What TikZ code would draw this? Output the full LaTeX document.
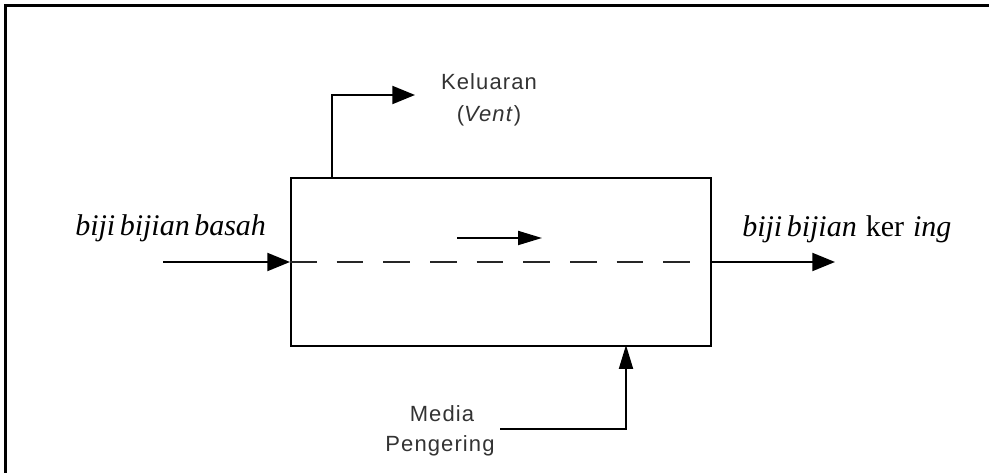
\documentclass[tikz,border=0pt]{standalone}
\usepackage{fontspec}
\setmainfont{Liberation Serif}
\newfontfamily\lblsans{Liberation Sans}[LetterSpace=5]
\usetikzlibrary{arrows.meta}
\definecolor{txtgray}{HTML}{333333}
\begin{document}
\begin{tikzpicture}[x=0.75pt,y=-0.75pt,
  flow/.style={line width=1.5pt,-{Triangle[length=17pt,width=13.5pt]}},
  smallflow/.style={line width=1.5pt,-{Triangle[length=18pt,width=10.5pt]}},
  dashline/.style={line width=1.5pt,black!85,dash pattern=on 20pt off 15pt},
  frame/.style={line width=2.25pt},
  unit/.style={draw,line width=1.5pt,minimum width=315pt,minimum height=126pt,anchor=north west,inner sep=0pt},
  sanslbl/.style={font=\lblsans\fontsize{16.5pt}{19pt}\selectfont,text=txtgray,inner sep=0pt,anchor=base},
  seriflbl/.style={font=\fontsize{22.5pt}{26pt}\selectfont\itshape,inner sep=0pt,anchor=base west}]
\useasboundingbox (0,0) rectangle (989,473);
\draw[frame] (5.5,473) |- (989,5.5);
% dryer body
\node[unit] (dryer) at (290,177) {};
% flow line
\coordinate (src) at (163,262);
\coordinate (inpt) at (290,262);
\coordinate (outpt) at (710,262);
\coordinate (dst) at (835,262);
\draw[flow] (src) -- (inpt);
\draw[dashline] (inpt) -- (outpt);
\draw[flow] (outpt) -- (dst);
% inner direction arrow
\coordinate (ia) at (457,238);
\coordinate (ib) at (542,238);
\draw[smallflow] (ia) -- (ib);
% vent
\coordinate (ventbase) at (332,177);
\coordinate (venttip) at (415,95);
\draw[flow] (ventbase) |- (venttip);
% drying medium
\coordinate (mstart) at (500,429);
\coordinate (mtip) at (626,345);
\draw[smallflow] (mstart) -| (mtip);
% labels
\node[seriflbl] (wetlbl) at (75,236) {biji\hspace{0.15em}bijian\hspace{0.15em}basah};
\node[seriflbl] (drylbl) at (742,237) {biji\hspace{0.15em}bijian\hspace{0.3em}\textup{ker}\hspace{0.3em}ing};
\node[sanslbl] (kel) at (489,90) {Keluaran};
\node[sanslbl] (vent) at (489,122) {(\textit{Vent})};
\node[sanslbl] (media) at (442,422) {Media};
\node[sanslbl] (peng) at (440,452) {Pengering};
\end{tikzpicture}
\end{document}
